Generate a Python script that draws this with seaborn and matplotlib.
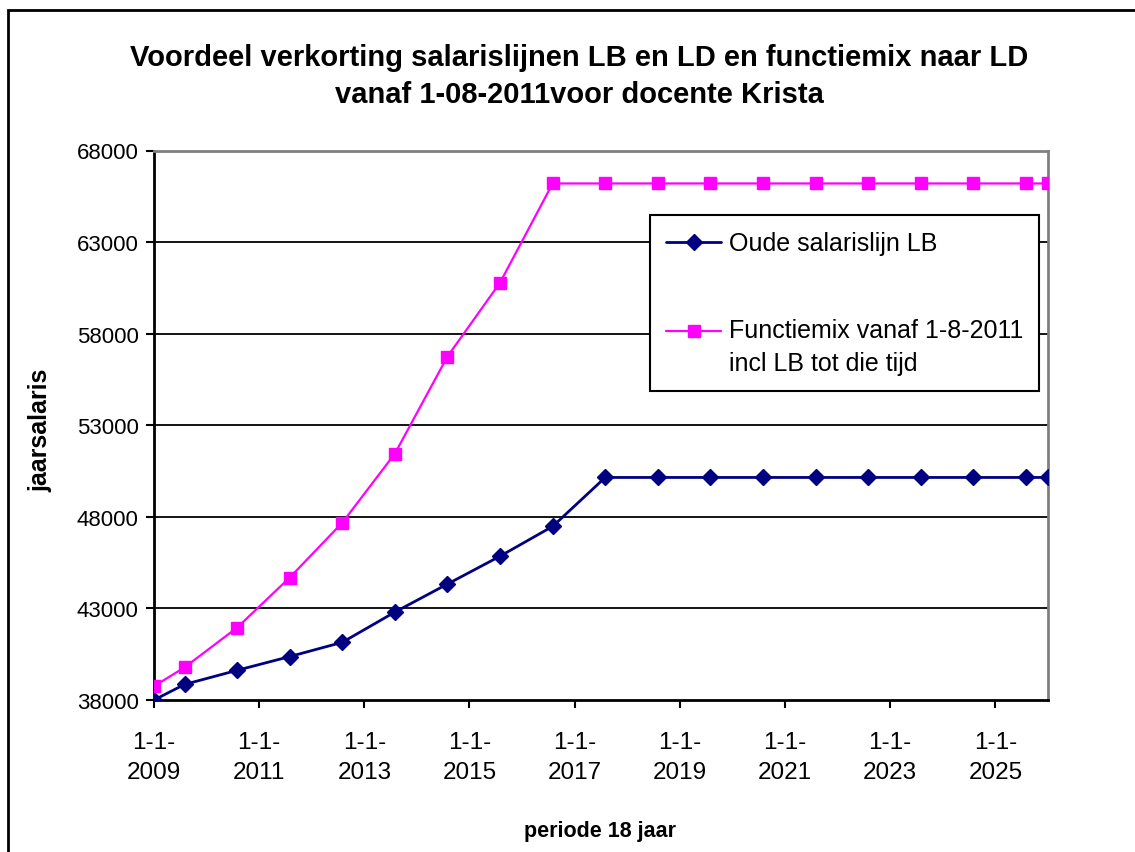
import matplotlib
matplotlib.use("Agg")
import matplotlib.pyplot as plt
from matplotlib.patches import Rectangle
from matplotlib.lines import Line2D
import seaborn as sns
import pandas as pd

# ---- data ----
dates = (["2009-01-01"] + [f"{y}-08-01" for y in range(2009, 2026)] + ["2026-01-01"])
oude_lb = [38000, 38850, 39620, 40370, 41150, 42800, 44330, 45850, 47480, 50150,
           50150, 50150, 50150, 50150, 50150, 50150, 50150, 50150, 50150]
functiemix = [38750, 39780, 41950, 44680, 47680, 51450, 56750, 60780, 66200, 66200,
              66200, 66200, 66200, 66200, 66200, 66200, 66200, 66200, 66200]
series_names = ["Oude salarislijn LB", "Functiemix vanaf 1-8-2011\nincl LB tot die tijd"]
title = "Voordeel verkorting salarislijnen LB en LD en functiemix naar LD\nvanaf 1-08-2011voor docente Krista"
tick_years = list(range(2009, 2026, 2))
y_ticks = [38000, 43000, 48000, 53000, 58000, 63000, 68000]

df = pd.DataFrame({"datum": pd.to_datetime(dates), "lb": oude_lb, "fm": functiemix})

sns.set_theme(style="white")
plt.rcParams["font.family"] = ["Liberation Sans", "DejaVu Sans"]
plt.rcParams["text.color"] = "black"
plt.rcParams["axes.labelcolor"] = "black"
plt.rcParams["xtick.color"] = "black"
plt.rcParams["ytick.color"] = "black"

W, H = 1135, 853
fig = plt.figure(figsize=(W / 100, H / 100), dpi=100)
L, R, T, B = 154, 1048, 151.5, 701
ax = fig.add_axes([L / W, 1 - B / H, (R - L) / W, (B - T) / H])

for v in y_ticks[1:-1]:
    ax.axhline(v, color="black", lw=1.3, zorder=0)

MAG = "#FF00FF"
NAVY = "#000080"
sns.lineplot(data=df, x="datum", y="lb", ax=ax, color=NAVY, lw=2,
             marker="D", markersize=8.5, markeredgecolor=NAVY, markeredgewidth=1,
             label=series_names[0], zorder=3)
sns.lineplot(data=df, x="datum", y="fm", ax=ax, color=MAG, lw=1.6,
             marker="s", markersize=8, markeredgecolor=MAG, markeredgewidth=1,
             label=series_names[1], zorder=3)

ax.set_xlim(pd.Timestamp("2009-01-01"), pd.Timestamp("2026-01-01"))
ax.set_ylim(38000, 68000)
ax.set_yticks(y_ticks)
ax.set_yticklabels([str(v) for v in y_ticks], fontsize=16)
xt = [pd.Timestamp(f"{y}-01-01") for y in tick_years]
ax.set_xticks(xt)
ax.set_xticklabels([f"1-1-\n{y}" for y in tick_years], fontsize=17.5)
for lab in ax.get_xticklabels():
    lab.set_linespacing(1.5)
ax.tick_params(axis="both", direction="out", length=6, width=1.5, color="black",
               bottom=True, left=True)
ax.tick_params(axis="x", pad=16)
ax.tick_params(axis="y", pad=5)

for s in ["left", "bottom"]:
    ax.spines[s].set_color("black")
    ax.spines[s].set_linewidth(2)
for s in ["top", "right"]:
    ax.spines[s].set_color("#808080")
    ax.spines[s].set_linewidth(2)

ax.set_xlabel("")
ax.set_ylabel("")
fig.text(40 / W, 1 - 430 / H, "jaarsalaris", rotation=90, fontsize=18,
         fontweight="bold", ha="center", va="center")
fig.text(600 / W, 1 - 832 / H, "periode 18 jaar", fontsize=15.5,
         fontweight="bold", ha="center", va="center")
fig.text(579 / W, 1 - 76.5 / H, title, fontsize=21, fontweight="bold",
         ha="center", va="center", linespacing=1.41)

leg = ax.legend(loc="upper left",
                bbox_to_anchor=((650 - L) / (R - L), (B - 216) / (B - T)),
                fontsize=18, frameon=True, fancybox=False, framealpha=1,
                edgecolor="black", handlelength=2.2, handletextpad=0.3,
                labelspacing=2.5, borderpad=0.65, borderaxespad=0)
leg.get_frame().set_linewidth(1.5)
for t in leg.get_texts():
    t.set_linespacing(1.47)
# put the magenta handle on the first line of its two-line label
for ln in leg.findobj(Line2D):
    if ln.get_color() == MAG:
        ln.set_ydata([y + 11.5 for y in ln.get_ydata()])

fig.patches.append(Rectangle((8 / W, -0.1), 1.2, 1.1 - 11 / H,
                             transform=fig.transFigure, fill=False,
                             edgecolor="black", lw=2))

fig.savefig("out.png", dpi=100, facecolor="white")
